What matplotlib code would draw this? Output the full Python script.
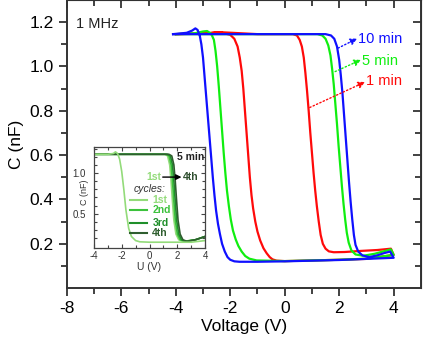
import numpy as np
import matplotlib
matplotlib.use("Agg")
import matplotlib.pyplot as plt

plt.rcParams['font.family'] = ['Liberation Sans', 'DejaVu Sans']
plt.rcParams['axes.unicode_minus'] = False

# main loops (forward sweep then return sweep)
red_v = [-4.0, -3.0, -2.4, -1.0, 0.0, 0.3, 0.45, 0.55, 0.63, 0.70, 0.76, 0.82, 0.88, 0.94, 1.0, 1.06,
         1.12, 1.18, 1.25, 1.32, 1.40, 1.5, 1.62, 1.8, 2.2, 2.8, 3.4, 3.9, 4.0,
         3.0, 2.0, 1.0, 0.0, -0.3, -0.45, -0.55, -0.66, -0.78, -0.9, -1.0, -1.08, -1.16, -1.22, -1.28,
         -1.34, -1.40, -1.46, -1.52, -1.58, -1.65, -1.73, -1.85, -2.0, -2.4, -2.8, -4.0]
red_c = [1.146, 1.148, 1.155, 1.146, 1.146, 1.146, 1.14, 1.12, 1.09, 1.04, 0.97, 0.89, 0.80, 0.70, 0.61, 0.52,
         0.44, 0.37, 0.30, 0.24, 0.20, 0.178, 0.166, 0.162, 0.163, 0.168, 0.172, 0.178, 0.15,
         0.132, 0.128, 0.125, 0.122, 0.124, 0.13, 0.14, 0.157, 0.18, 0.215, 0.255, 0.30, 0.36, 0.42, 0.50,
         0.60, 0.70, 0.80, 0.90, 0.98, 1.04, 1.09, 1.125, 1.143, 1.155, 1.15, 1.146]

green_v = [-4.0, -2.0, 0.0, 1.2, 1.38, 1.5, 1.6, 1.68, 1.74, 1.8, 1.86, 1.92, 1.98, 2.04, 2.10, 2.16,
           2.22, 2.28, 2.35, 2.45, 2.6, 2.88, 3.3, 3.6, 3.9, 4.0,
           3.0, 2.0, 0.0, -1.03, -1.3, -1.45, -1.58, -1.7, -1.8, -1.9, -1.98, -2.05, -2.12, -2.18, -2.24,
           -2.3, -2.36, -2.42, -2.48, -2.54, -2.6, -2.7, -2.85, -3.0, -3.3, -4.0]
green_c = [1.146, 1.146, 1.146, 1.146, 1.14, 1.125, 1.095, 1.05, 0.99, 0.92, 0.83, 0.74, 0.64, 0.55, 0.46, 0.38,
           0.31, 0.25, 0.205, 0.17, 0.152, 0.146, 0.155, 0.165, 0.175, 0.15,
           0.133, 0.128, 0.122, 0.125, 0.133, 0.145, 0.165, 0.19, 0.22, 0.26, 0.31, 0.37, 0.44, 0.52, 0.61,
           0.71, 0.81, 0.91, 1.0, 1.07, 1.12, 1.148, 1.16, 1.158, 1.15, 1.146]

blue_v = [-4.1, -3.0, -1.0, 1.0, 1.5, 1.7, 1.82, 1.92, 2.0, 2.06, 2.12, 2.18, 2.24, 2.30, 2.36, 2.42,
          2.48, 2.54, 2.6, 2.7, 2.85, 3.1, 3.4, 3.65, 3.87, 4.0,
          3.0, 2.0, 0.0, -1.0, -1.66, -1.85, -2.0, -2.1, -2.2, -2.3, -2.38, -2.45, -2.52, -2.58, -2.64,
          -2.70, -2.76, -2.82, -2.88, -2.94, -3.0, -3.06, -3.12, -3.2, -3.28, -3.4, -3.6, -4.1]
blue_c = [1.146, 1.146, 1.146, 1.146, 1.146, 1.14, 1.125, 1.09, 1.03, 0.96, 0.88, 0.78, 0.68, 0.58, 0.48, 0.39,
          0.31, 0.24, 0.195, 0.165, 0.148, 0.14, 0.148, 0.158, 0.165, 0.137,
          0.132, 0.127, 0.121, 0.119, 0.119, 0.121, 0.128, 0.14, 0.165, 0.20, 0.245, 0.29, 0.35, 0.42, 0.50,
          0.59, 0.68, 0.77, 0.86, 0.95, 1.04, 1.10, 1.14, 1.165, 1.172, 1.162, 1.152, 1.146]

# inset: 4 cycles at 5 min, shared return branch
ins_ret_v = [4.0, 3.0, 2.0, 0.0, -0.7, -1.0, -1.3, -1.5, -1.7, -1.85, -2.0, -2.15, -2.3, -2.45, -2.6, -3.0, -4.0]
ins_ret_c = [0.17, 0.15, 0.15, 0.15, 0.155, 0.17, 0.22, 0.32, 0.55, 0.80, 1.02, 1.17, 1.24, 1.26, 1.24, 1.23, 1.23]
ins_fwd_c = [1.23, 1.23, 1.21, 1.10, 0.90, 0.65, 0.42, 0.25, 0.18, 0.16, 0.18, 0.22]
ins_fwd_v = {
    '1st': [-4.0, 1.1, 1.3, 1.45, 1.55, 1.65, 1.75, 1.9, 2.1, 2.4, 3.3, 4.0],
    '2nd': [-4.0, 1.2, 1.4, 1.55, 1.65, 1.75, 1.85, 2.0, 2.2, 2.5, 3.3, 4.0],
    '3rd': [-4.0, 1.3, 1.5, 1.65, 1.75, 1.85, 1.95, 2.1, 2.3, 2.6, 3.3, 4.0],
    '4th': [-4.0, 1.4, 1.6, 1.75, 1.85, 1.95, 2.05, 2.2, 2.4, 2.7, 3.3, 4.0],
}
cycle_colors = {'1st': '#93db7a', '2nd': '#3cc23c', '3rd': '#1f8f2a', '4th': '#2f5e2f'}

fig = plt.figure(figsize=(4.23, 3.41), dpi=100)
ax = fig.add_axes([0.158, 0.155, 0.837, 0.845])

ax.plot(red_v, red_c, color='#ff0a0a', lw=1.6)
ax.plot(green_v, green_c, color='#10ee10', lw=1.6)
ax.plot(blue_v, blue_c, color='#1010ff', lw=1.6)

ax.set_xlim(-8, 5)
ax.set_ylim(0.0, 1.3)
ax.set_xticks([-8, -6, -4, -2, 0, 2, 4])
ax.set_xticks(np.arange(-7, 5, 2), minor=True)
ax.set_yticks([0.2, 0.4, 0.6, 0.8, 1.0, 1.2])
ax.set_yticks([0.1, 0.3, 0.5, 0.7, 0.9, 1.1], minor=True)
ax.tick_params(which='both', direction='out', width=1.3, labelsize=12.5, color='#333333')
ax.tick_params(which='major', length=6)
ax.tick_params(which='minor', length=4)
for s in ax.spines.values():
    s.set_linewidth(1.4)
    s.set_color('#333333')
ax.set_xlabel('Voltage (V)', fontsize=12.5, labelpad=2)
ax.set_ylabel('C (nF)', fontsize=12.5, labelpad=4)

# mirrored ticks pointing inward on top and right
axt = ax.secondary_xaxis('top')
axt.set_xticks([-8, -6, -4, -2, 0, 2, 4])
axt.set_xticks(np.arange(-7, 5, 2), minor=True)
axt.tick_params(which='both', direction='in', width=1.3, labeltop=False, color='#333333')
axt.tick_params(which='major', length=6)
axt.tick_params(which='minor', length=4)
axr = ax.secondary_yaxis('right')
axr.set_yticks([0.2, 0.4, 0.6, 0.8, 1.0, 1.2])
axr.set_yticks([0.1, 0.3, 0.5, 0.7, 0.9, 1.1], minor=True)
axr.tick_params(which='both', direction='in', width=1.3, labelright=False, color='#333333')
axr.tick_params(which='major', length=6)
axr.tick_params(which='minor', length=4)

ax.text(-7.68, 1.19, '1 MHz', fontsize=10.5, color='#222222', va='center')

# dotted arrows from the curves out to the labels
arrow = dict(arrowstyle='-|>', linestyle=':', lw=1.0, mutation_scale=10, shrinkA=0, shrinkB=0)
labels = [('10 min', '#1010ff', (1.96, 1.083), (2.66, 1.126), (2.69, 1.123)),
          ('5 min', '#10ee10', (1.85, 0.977), (2.80, 1.030), (2.84, 1.024)),
          ('1 min', '#ff0a0a', (0.92, 0.815), (2.95, 0.930), (2.99, 0.934))]
for txt, col, start, end, pos in labels:
    ax.annotate('', xy=end, xytext=start, arrowprops=dict(arrow, color=col))
    ax.text(pos[0], pos[1], txt, color=col, fontsize=10.5, va='center')

# inset
ins = fig.add_axes([0.222, 0.273, 0.263, 0.296])
for name in ['1st', '2nd', '3rd', '4th']:
    ins.plot(ins_fwd_v[name], ins_fwd_c, color=cycle_colors[name], lw=1.2)
ins.plot(ins_ret_v, ins_ret_c, color=cycle_colors['1st'], lw=1.2)
ins.set_xlim(-4, 4)
ins.set_ylim(0.08, 1.32)
ins.set_xticks([-4, -2, 0, 2, 4])
ins.set_xticks([-3, -1, 1, 3], minor=True)
ins.set_yticks([0.5, 1.0])
ins.set_yticks(np.arange(0.2, 1.31, 0.1), minor=True)
ins.tick_params(which='both', direction='in', top=True, right=True, labelsize=7, color='#444444',
                labelcolor='#333333', width=0.8, pad=2)
ins.tick_params(axis='y', pad=6)
ins.tick_params(which='major', length=3)
ins.tick_params(which='minor', length=2)
for s in ins.spines.values():
    s.set_linewidth(0.9)
    s.set_color('#444444')
ins.set_xlabel('U (V)', fontsize=7.5, color='#333333', labelpad=1)
ins.set_ylabel('C (nF)', fontsize=6.5, color='#333333')
ins.yaxis.set_label_coords(-0.045, 0.55)

ins.text(3.95, 1.2, '5 min', fontsize=7.5, fontweight='bold', ha='right', va='center', color='#222222')
ins.text(0.3, 0.95, '1st', fontsize=7.5, fontweight='bold', ha='center', va='center', color=cycle_colors['1st'])
ins.annotate('', xy=(2.3, 0.95), xytext=(0.95, 0.95),
             arrowprops=dict(arrowstyle='-|>', color='black', lw=1.0, mutation_scale=8, shrinkA=0, shrinkB=0))
ins.text(2.4, 0.95, '4th', fontsize=7.5, fontweight='bold', ha='left', va='center', color='#2f4f2f')
ins.text(0.0, 0.80, 'cycles:', fontsize=7.5, style='italic', ha='center', va='center', color='#333333')
for name, yy in zip(['1st', '2nd', '3rd', '4th'], [0.67, 0.54, 0.39, 0.26]):
    ins.plot([-1.4, -0.2], [yy, yy], color=cycle_colors[name], lw=1.5)
    ins.text(0.2, yy, name, fontsize=7.5, fontweight='bold', ha='left', va='center', color=cycle_colors[name])

fig.savefig('out.png', dpi=100)
